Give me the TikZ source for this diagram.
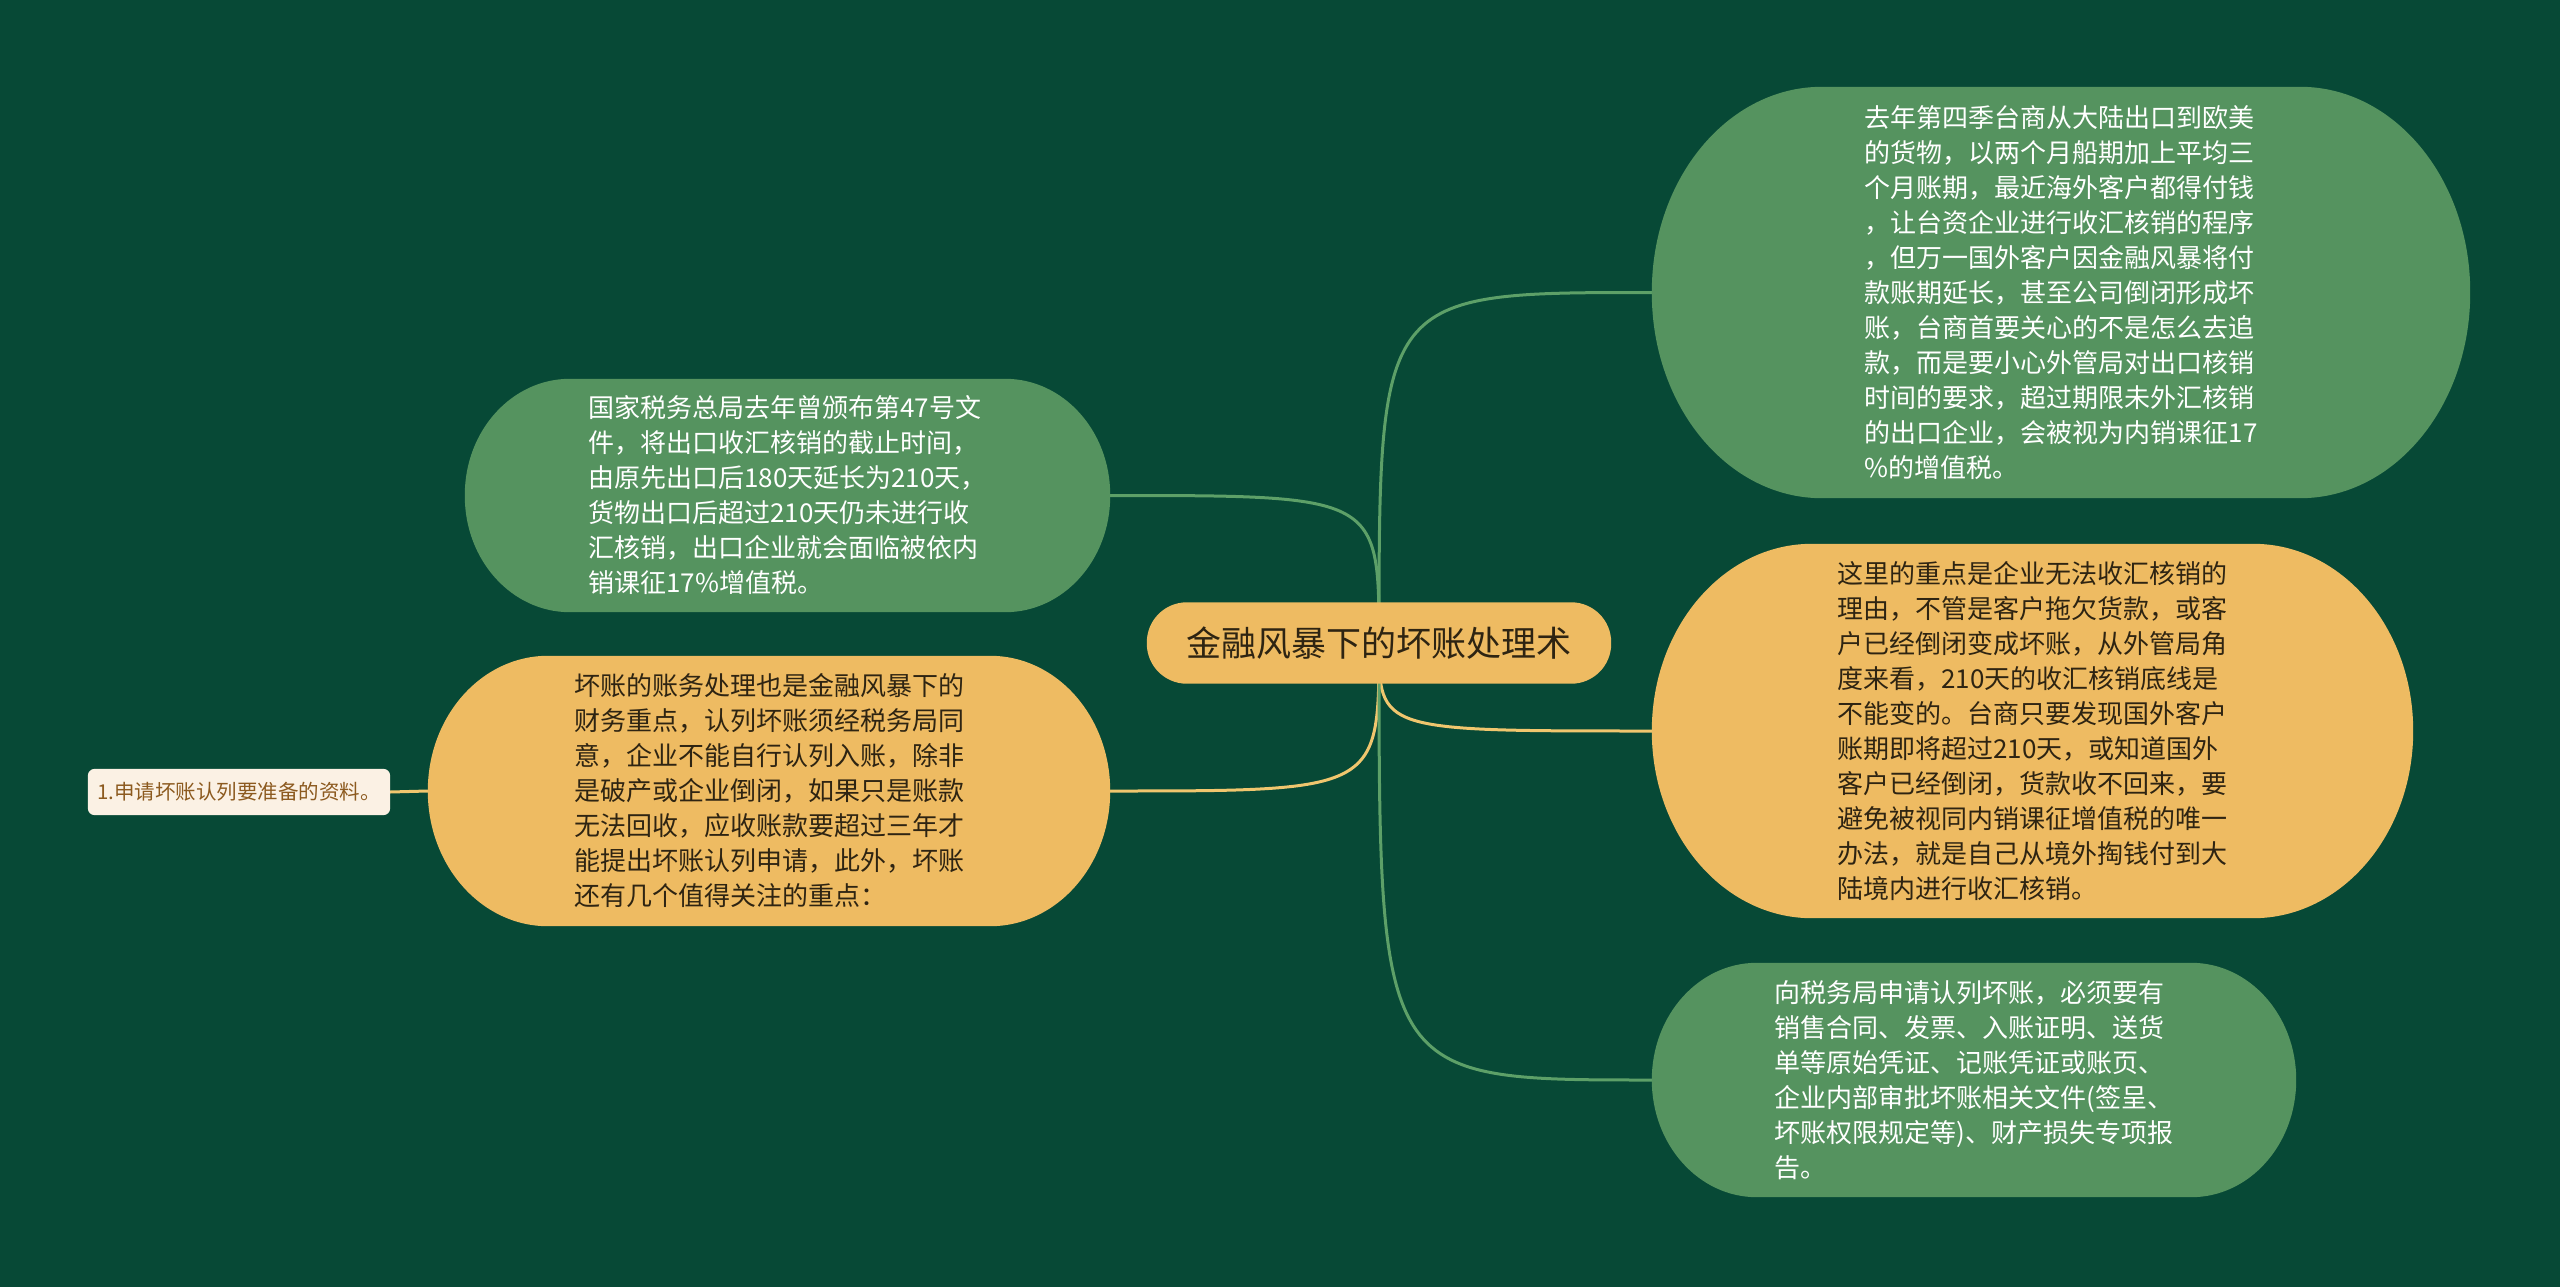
\documentclass[tikz,border=0pt]{standalone}
\usepackage{fontspec}
\setmainfont{Noto Sans CJK SC}
\usetikzlibrary{calc}
\definecolor{bgc}{HTML}{074936}
\definecolor{gfill}{HTML}{55935F}
\definecolor{ofill}{HTML}{EEBB62}
\definecolor{gline}{HTML}{5DA068}
\definecolor{oline}{HTML}{F0C66E}
\definecolor{darktext}{HTML}{2E2412}
\definecolor{sfill}{HTML}{FBF1E4}
\definecolor{stext}{HTML}{8C5A1F}
\pgfdeclarelayer{bglayer}
\pgfdeclarelayer{lines}
\pgfdeclarelayer{shapes}
\pgfsetlayers{bglayer,lines,shapes,main}
\newcommand\bubshape[4]{%
  \begin{pgfonlayer}{shapes}
  \fill[#2] let \p1=(#1.north west), \p2=(#1.south east) in
    ({\x1+#3},\y1) -- ({\x2-#3},\y1)
    arc[start angle=90,end angle=0,x radius=#3,y radius=#4]
    -- (\x2,{\y2+#4})
    arc[start angle=0,end angle=-90,x radius=#3,y radius=#4]
    -- ({\x1+#3},\y2)
    arc[start angle=-90,end angle=-180,x radius=#3,y radius=#4]
    -- (\x1,{\y1-#4})
    arc[start angle=180,end angle=90,x radius=#3,y radius=#4]
    -- cycle;
  \end{pgfonlayer}}
\tikzset{
  txtbox/.style={inner sep=0pt, align=left, font=\fontsize{26}{35}\selectfont},
  gtxt/.style={txtbox, text=white},
  otxt/.style={txtbox, text=darktext},
  glink/.style={draw=gline, line width=3pt},
  olink/.style={draw=oline, line width=3pt},
}
\begin{document}
\begin{tikzpicture}[x=1pt,y=-1pt]
\begin{pgfonlayer}{bglayer}
\fill[bgc] (0,0) rectangle (2560,1287);
\end{pgfonlayer}
\useasboundingbox (0,0) rectangle (2560,1287);

% central
\node[inner sep=0pt, minimum width=464pt, minimum height=81pt, text=darktext,
      font=\fontsize{35}{40}\selectfont] (c) at (1379,643) {金融风暴下的坏账处理术};
\bubshape{c}{ofill}{40pt}{40pt}

% top right green
\node[gtxt, minimum width=818pt, minimum height=411pt] (t1) at (2061,292.5) {去年第四季台商从大陆出口到欧美\\的货物，以两个月船期加上平均三\\个月账期，最近海外客户都得付钱\\，让台资企业进行收汇核销的程序\\，但万一国外客户因金融风暴将付\\款账期延长，甚至公司倒闭形成坏\\账，台商首要关心的不是怎么去追\\款，而是要小心外管局对出口核销\\时间的要求，超过期限未外汇核销\\的出口企业，会被视为内销课征17\\\%的增值税。};
\bubshape{t1}{gfill}{170pt}{205pt}

% left green
\node[gtxt, minimum width=645pt, minimum height=233pt] (l1) at (787.5,495.5) {国家税务总局去年曾颁布第47号文\\件，将出口收汇核销的截止时间，\\由原先出口后180天延长为210天，\\货物出口后超过210天仍未进行收\\汇核销，出口企业就会面临被依内\\销课征17\%增值税。};
\bubshape{l1}{gfill}{105pt}{116pt}

% left orange
\node[otxt, minimum width=682pt, minimum height=270pt] (l2) at (769,791) {坏账的账务处理也是金融风暴下的\\财务重点，认列坏账须经税务局同\\意，企业不能自行认列入账，除非\\是破产或企业倒闭，如果只是账款\\无法回收，应收账款要超过三年才\\能提出坏账认列申请，此外，坏账\\还有几个值得关注的重点：};
\bubshape{l2}{ofill}{120pt}{135pt}

% small node
\node[inner sep=0pt, minimum width=302pt, minimum height=46pt, text=stext,
      font=\fontsize{20.5}{25}\selectfont] (s) at (239,792) {1.申请坏账认列要准备的资料。};
\bubshape{s}{sfill}{7pt}{7pt}

% right orange
\node[otxt, minimum width=761pt, minimum height=374pt] (r2) at (2032.5,731) {这里的重点是企业无法收汇核销的\\理由，不管是客户拖欠货款，或客\\户已经倒闭变成坏账，从外管局角\\度来看，210天的收汇核销底线是\\不能变的。台商只要发现国外客户\\账期即将超过210天，或知道国外\\客户已经倒闭，货款收不回来，要\\避免被视同内销课征增值税的唯一\\办法，就是自己从境外掏钱付到大\\陆境内进行收汇核销。};
\bubshape{r2}{ofill}{160pt}{187pt}

% bottom right green
\node[gtxt, minimum width=644pt, minimum height=234pt] (r3) at (1974,1080) {向税务局申请认列坏账，必须要有\\销售合同、发票、入账证明、送货\\单等原始凭证、记账凭证或账页、\\企业内部审批坏账相关文件(签呈、\\坏账权限规定等)、财产损失专项报\\告。};
\bubshape{r3}{gfill}{105pt}{117pt}

% connectors
\begin{pgfonlayer}{lines}
\draw[glink] (c.center) .. controls (c.center |- t1.west) .. (t1.west);
\draw[glink] (c.center) .. controls (c.center |- l1.east) .. (l1.east);
\draw[olink] (c.center) .. controls (c.center |- l2.east) .. (l2.east);
\draw[olink] (c.center) .. controls (c.center |- r2.west) .. (r2.west);
\draw[glink] (c.center) .. controls (c.center |- r3.west) .. (r3.west);
\draw[olink] (l2.west) -- (s.east);
\end{pgfonlayer}
\end{tikzpicture}
\end{document}
